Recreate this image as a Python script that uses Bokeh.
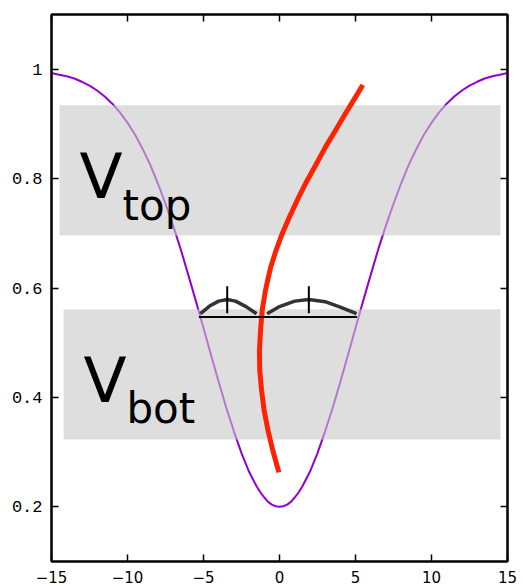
from bokeh.plotting import figure
from bokeh.models import LinearAxis, FixedTicker, Label, Range1d
from bokeh.embed import file_html
from bokeh.resources import INLINE

# ---- data ----
purple_x = [-15, -14.5, -14, -13.5, -13, -12.5, -12, -11.5, -11, -10.5, -10, -9.5, -9, -8.5, -8,
            -7.5, -7, -6.5, -6, -5.5, -5, -4.5, -4, -3.5, -3, -2.5, -2, -1.5, -1.25, -1, -0.75,
            -0.5, -0.25, 0, 0.25, 0.5, 0.75, 1, 1.25, 1.5, 2, 2.5, 3, 3.5, 4, 4.5, 5, 5.5, 6,
            6.5, 7, 7.5, 8, 8.5, 9, 9.5, 10, 10.5, 11, 11.5, 12, 12.5, 13, 13.5, 14, 14.5, 15]
purple_y = [0.993, 0.990, 0.987, 0.983, 0.977, 0.970, 0.961, 0.950, 0.937, 0.921, 0.902, 0.880,
            0.854, 0.825, 0.791, 0.754, 0.714, 0.671, 0.624, 0.576, 0.527, 0.477, 0.428, 0.381,
            0.338, 0.298, 0.264, 0.237, 0.226, 0.217, 0.209, 0.204, 0.201,
            0.200, 0.201, 0.204, 0.209, 0.217, 0.226, 0.237, 0.264, 0.298, 0.338, 0.381, 0.428,
            0.477, 0.527, 0.576, 0.624, 0.671, 0.714, 0.754, 0.791, 0.825, 0.854, 0.880, 0.902,
            0.921, 0.937, 0.950, 0.961, 0.970, 0.977, 0.983, 0.987, 0.990, 0.993]

red_x = [5.48, 5.0, 4.34, 3.68, 3.03, 2.37, 1.71, 1.16, 0.61, 0.13, -0.26, -0.58, -0.78, -0.92,
         -1.14, -1.25, -1.32, -1.30, -1.18, -1.01, -0.75, -0.44, -0.04]
red_y = [0.971, 0.949, 0.919, 0.888, 0.858, 0.824, 0.791, 0.760, 0.727, 0.696, 0.666, 0.638,
         0.614, 0.596, 0.559, 0.522, 0.486, 0.449, 0.413, 0.376, 0.339, 0.303, 0.263]

box_left = [-14.47, -14.2]
box_right = [14.54, 14.54]
box_top = [0.934, 0.561]
box_bottom = [0.696, 0.323]

base_x = [-5.3, 5.1]
base_y = [0.547, 0.547]
arc1_x = [-5.2, -4.6, -4.0, -3.44, -2.9, -2.2, -1.51]
arc1_y = [0.553, 0.567, 0.576, 0.579, 0.576, 0.566, 0.553]
arc2_x = [-0.81, 0.0, 1.0, 1.93, 3.0, 4.0, 5.07]
arc2_y = [0.553, 0.566, 0.576, 0.579, 0.575, 0.565, 0.553]
mark_x = [-3.44, 1.93]
mark_y0 = [0.554, 0.554]
mark_y1 = [0.603, 0.603]

x_ticks = [-15, -10, -5, 0, 5, 10, 15]
x_tick_labels = ["\u221215", "\u221210", "\u22125", "0", "5", "10", "15"]
y_ticks = [0.2, 0.4, 0.6, 0.8, 1.0]
y_tick_labels = ["0.2", "0.4", "0.6", "0.8", "1"]

# ---- figure ----
p = figure(width=523, height=586, x_range=Range1d(-15, 15), y_range=Range1d(0.1, 1.1),
           output_backend="svg", toolbar_location=None,
           min_border_left=51, min_border_right=16, min_border_top=14, min_border_bottom=25)
p.grid.visible = False
p.background_fill_color = "white"
p.border_fill_color = "white"
p.outline_line_color = "black"
p.outline_line_width = 2


def style_axis(ax, ticks, labels, show_labels, font=None, size=None, standoff=None):
    ax.ticker = FixedTicker(ticks=ticks)
    ax.minor_tick_line_color = None
    ax.major_tick_in = 7
    ax.major_tick_out = 0
    ax.major_tick_line_width = 1.5
    ax.major_tick_line_color = "black"
    ax.axis_line_color = "black"
    ax.axis_line_width = 2
    if show_labels:
        ax.major_label_overrides = dict(zip(ticks, labels))
        ax.major_label_text_font = font
        ax.major_label_text_font_size = size
        ax.major_label_text_color = "black"
        ax.major_label_standoff = standoff
    else:
        ax.major_label_overrides = {t: "" for t in ticks}
        ax.major_label_standoff = 0


style_axis(p.xaxis[0], x_ticks, x_tick_labels, True, "DejaVu Sans", "15px", 9)
style_axis(p.yaxis[0], y_ticks, y_tick_labels, True, "Liberation Mono", "17px", 9)

top_ax = LinearAxis()
style_axis(top_ax, x_ticks, x_tick_labels, False)
p.add_layout(top_ax, "above")
right_ax = LinearAxis()
style_axis(right_ax, y_ticks, y_tick_labels, False)
p.add_layout(right_ax, "right")

# purple curve
p.line(purple_x, purple_y, line_color="#9400d3", line_width=2)

# grey translucent boxes
p.quad(left=box_left, right=box_right, top=box_top, bottom=box_bottom,
       fill_color="#c8c8c8", fill_alpha=0.6, line_color=None)

# red curve
p.line(red_x, red_y, line_color="#ff2200", line_width=5, line_join="round")

# black annotation
p.line(base_x, base_y, line_color="black", line_width=2)
p.line(arc1_x, arc1_y, line_color="#333333", line_width=3.5, line_join="round")
p.line(arc2_x, arc2_y, line_color="#333333", line_width=3.5, line_join="round")
p.segment(x0=mark_x, y0=mark_y0, x1=mark_x, y1=mark_y1, line_color="black", line_width=2)

# texts
for (tx, ty, t, sz) in [(-13.16, 0.804, "V", "63px"), (-10.33, 0.751, "top", "42px"),
                        (-12.90, 0.431, "V", "63px"), (-10.07, 0.380, "bot", "42px")]:
    p.add_layout(Label(x=tx, y=ty, text=t, text_font="DejaVu Sans", text_font_size=sz,
                       text_color="black", text_baseline="alphabetic", text_align="left"))

open("out.html", "w").write(file_html(p, INLINE))
